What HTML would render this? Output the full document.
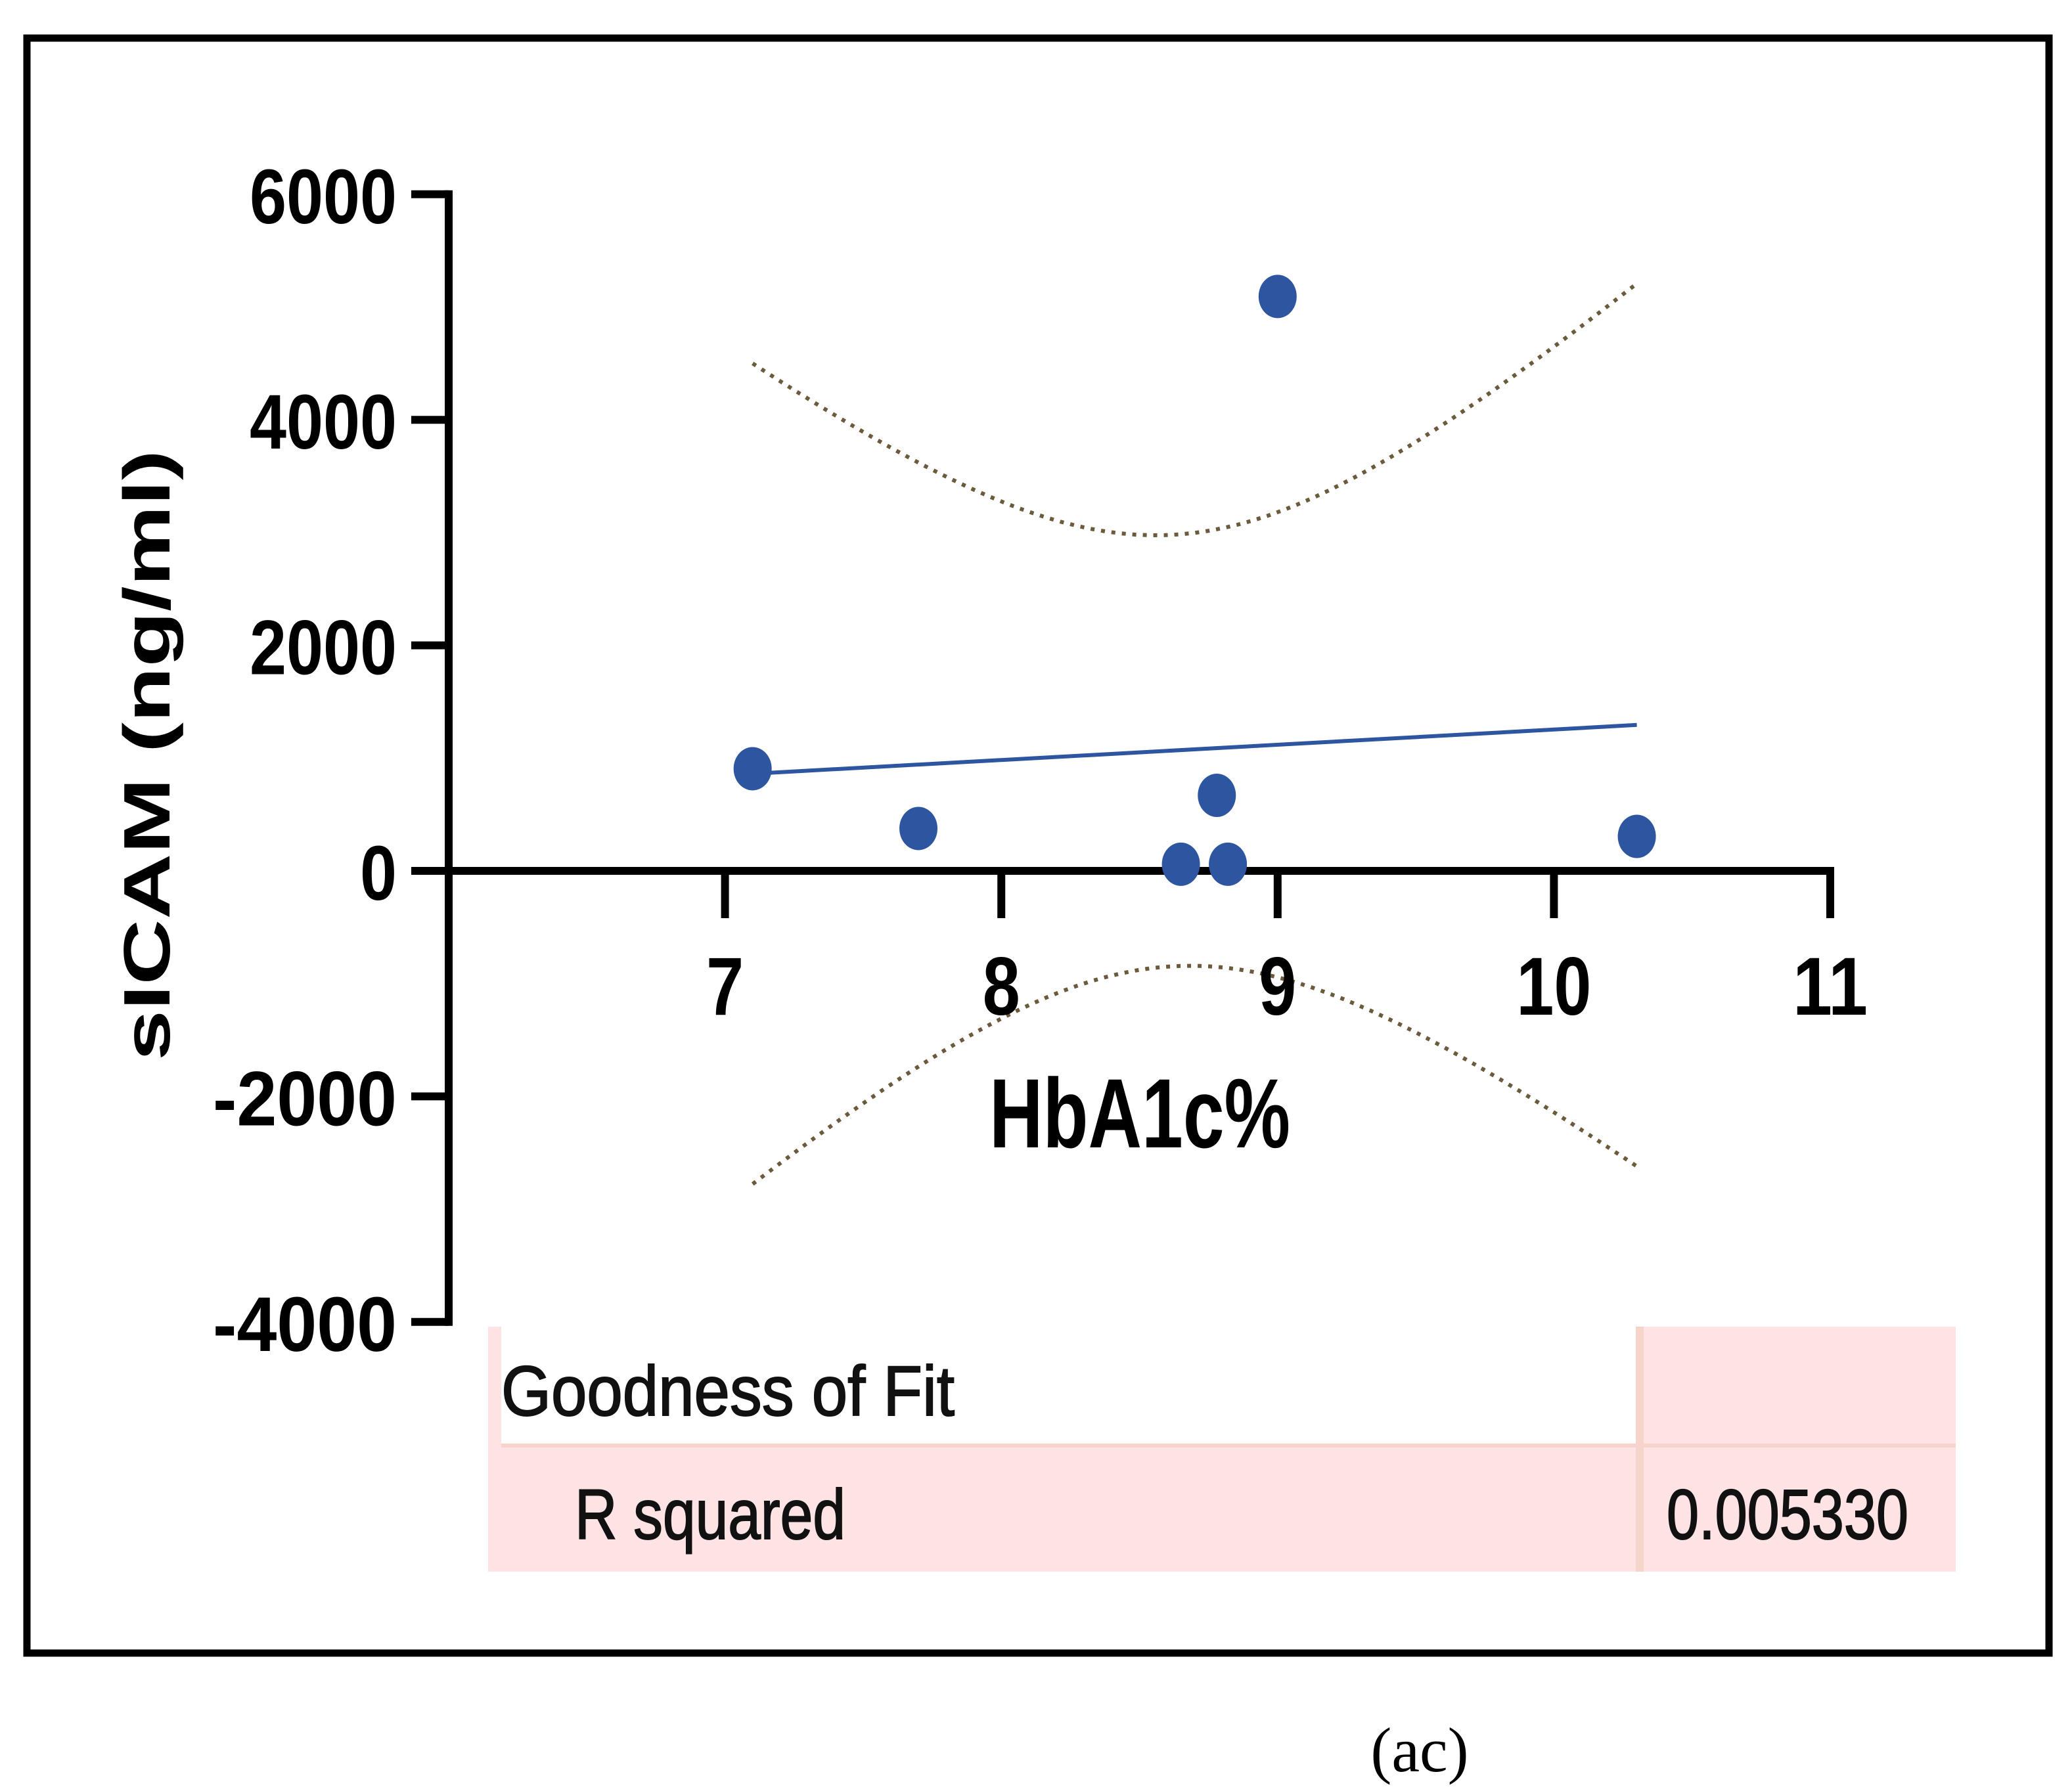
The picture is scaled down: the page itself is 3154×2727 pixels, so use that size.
<!DOCTYPE html>
<html><head><meta charset="utf-8"><style>
html,body{margin:0;padding:0;background:#fff;}
svg{display:block;}
</style></head><body>
<svg width="3154" height="2727" viewBox="0 0 3154 2727" xmlns="http://www.w3.org/2000/svg">
<rect x="41" y="58" width="3078" height="2459" fill="none" stroke="#000" stroke-width="11"/>
<g id="ci"></g>
<g id="axes"></g>
<g id="marks"></g>
<text x="0" y="0" transform="translate(258,1150) rotate(-90)" text-anchor="middle" font-family="Liberation Sans, sans-serif" font-weight="bold" font-size="100" textLength="930" lengthAdjust="spacingAndGlyphs">sICAM (ng/ml)</text>
<text x="1735" y="1747" text-anchor="middle" font-family="Liberation Sans, sans-serif" font-weight="bold" font-size="150" textLength="458" lengthAdjust="spacingAndGlyphs">HbA1c%</text>
<g>
<rect x="743" y="2020" width="2234" height="373" fill="#fde3e4"/>
<rect x="763" y="2020" width="1727" height="178" fill="#fff"/>
<rect x="2490" y="2020" width="12" height="373" fill="#f6d4cc"/>
<rect x="763" y="2198" width="2214" height="6" fill="#f6d4cc"/>
<text x="763" y="2155" font-family="Liberation Sans, sans-serif" font-size="108" textLength="690" lengthAdjust="spacingAndGlyphs" fill="#111" stroke="#111" stroke-width="2">Goodness of Fit</text>
<text x="875" y="2343" font-family="Liberation Sans, sans-serif" font-size="108" textLength="412" lengthAdjust="spacingAndGlyphs" fill="#111" stroke="#111" stroke-width="2">R squared</text>
<text x="2537" y="2343" font-family="Liberation Sans, sans-serif" font-size="108" textLength="368" lengthAdjust="spacingAndGlyphs" fill="#111" stroke="#111" stroke-width="2">0.005330</text>
</g>
<text x="2161" y="2697" text-anchor="middle" font-family="Liberation Serif, serif" font-size="96">(ac)</text>
</svg>
<script>
const xValues=[7.1,7.7,8.65,8.82,8.78,9.0,10.3];
const yValues=[906,376,59,59,670,5094,306];
const xTicks=[7,8,9,10,11];
const xTickLabels=["7","8","9","10","11"];
const yTicks=[6000,4000,2000,0,-2000,-4000];
const yTickLabels=["6000","4000","2000","0","-2000","-4000"];
const tCrit=2.571;

const NS="http://www.w3.org/2000/svg";
const X0=683, XU=420.6, Y0=1326, YU=0.1717;
function sx(v){return X0+(v-6)*XU;}
function sy(v){return Y0-v*YU;}
function mk(tag,attrs,parent){const e=document.createElementNS(NS,tag);for(const k in attrs)e.setAttribute(k,attrs[k]);parent.appendChild(e);return e;}
const axes=document.getElementById('axes'),marks=document.getElementById('marks'),ci=document.getElementById('ci');

let a=mk('line',{x1:X0,y1:sy(6000)-6,x2:X0,y2:sy(-4000)+6,stroke:'#000','stroke-width':12},axes);


a=mk('line',{x1:X0-6,y1:Y0,x2:sx(11)+6,y2:Y0,stroke:'#000','stroke-width':12},axes);


yTicks.forEach((v,i)=>{
  const t=mk('line',{x1:626,y1:sy(v),x2:X0,y2:sy(v),stroke:'#000','stroke-width':12},axes);
  
  
  const l=mk('text',{x:604,y:sy(v)+44,'text-anchor':'end','font-family':'Liberation Sans, sans-serif','font-weight':'bold','font-size':118,textLength:yTickLabels[i].length*56,lengthAdjust:'spacingAndGlyphs'},axes);
  l.textContent=yTickLabels[i];
  
  
});
xTicks.forEach((v,i)=>{
  const t=mk('line',{x1:sx(v),y1:Y0,x2:sx(v),y2:1398,stroke:'#000','stroke-width':12},axes);
  
  
  const l=mk('text',{x:sx(v),y:1545,'text-anchor':'middle','font-family':'Liberation Sans, sans-serif','font-weight':'bold','font-size':125,textLength:xTickLabels[i].length*57,lengthAdjust:'spacingAndGlyphs'},axes);
  l.textContent=xTickLabels[i];
  
  
});

const n=xValues.length;
const mx=xValues.reduce((s,v)=>s+v,0)/n, my=yValues.reduce((s,v)=>s+v,0)/n;
let sxx=0,sxy=0;for(let i=0;i<n;i++){sxx+=(xValues[i]-mx)**2;sxy+=(xValues[i]-mx)*(yValues[i]-my);}
const b=sxy/sxx, a0=my-b*mx;
let sse=0;for(let i=0;i<n;i++){sse+=(yValues[i]-a0-b*xValues[i])**2;}
const se=Math.sqrt(sse/(n-2));
const xmin=Math.min(...xValues), xmax=Math.max(...xValues);
let up=[],lo=[];
for(let k=0;k<=60;k++){const x=xmin+(xmax-xmin)*k/60;const f=a0+b*x;const h=tCrit*se*Math.sqrt(1/n+(x-mx)**2/sxx);
 up.push(sx(x).toFixed(1)+','+sy(f+h).toFixed(1));lo.push(sx(x).toFixed(1)+','+sy(f-h).toFixed(1));}
let p=mk('polyline',{points:up.join(' '),fill:'none',stroke:'#6b5a3c','stroke-width':6,'stroke-dasharray':'6 10'},ci);


p=mk('polyline',{points:lo.join(' '),fill:'none',stroke:'#6b5a3c','stroke-width':6,'stroke-dasharray':'6 10'},ci);


p=mk('line',{x1:sx(xmin),y1:sy(a0+b*xmin),x2:sx(xmax),y2:sy(a0+b*xmax),stroke:'#2e56a0','stroke-width':6},ci);


for(let i=0;i<n;i++){
  const e=mk('ellipse',{cx:sx(xValues[i]),cy:sy(yValues[i]),rx:29,ry:33,fill:'#2e56a0'},marks);
  
  
}
</script>
</body></html>
